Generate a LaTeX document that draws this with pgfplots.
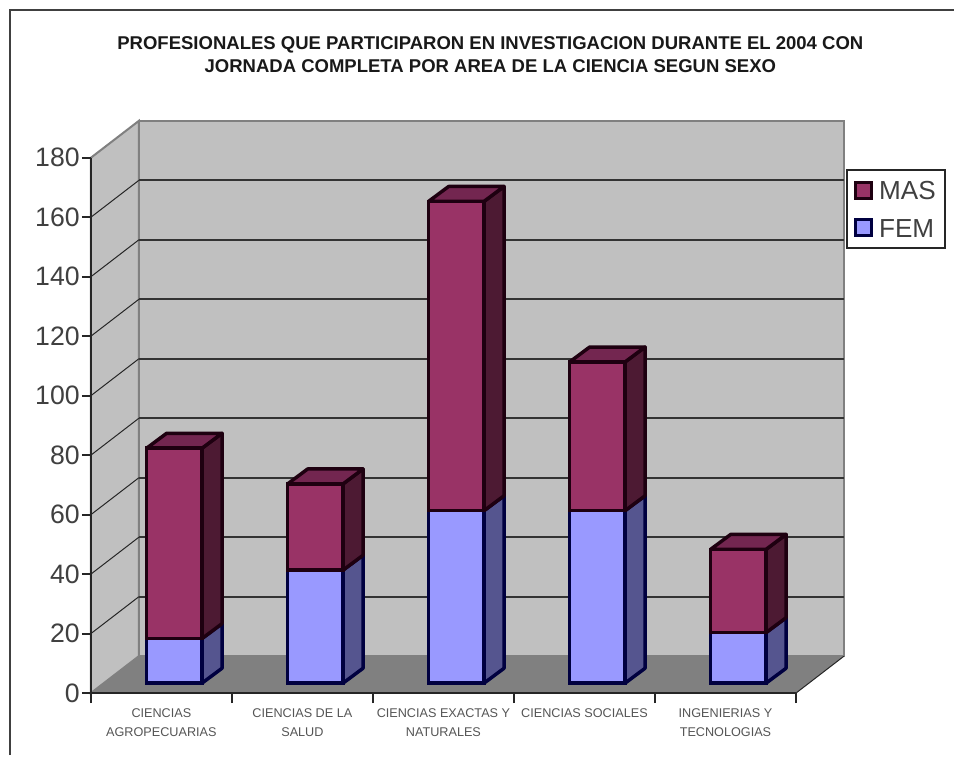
\documentclass[border=0pt]{standalone}
\usepackage{pgfplots}
\usepackage{pgfplotstable}
\usepackage{fontspec}
\setmainfont{Liberation Sans}
\pgfplotsset{compat=1.18}

% One drawing pixel is 0.75pt; the page is 955 x 756 of them.
\newlength{\px}\setlength{\px}{0.75pt}

\definecolor{wallgray}{HTML}{C0C0C0}
\definecolor{edgegray}{HTML}{808080}
\definecolor{floorgray}{HTML}{808080}
\definecolor{masfront}{HTML}{993366}
\definecolor{masside}{HTML}{4D1A33}
\definecolor{mastop}{HTML}{732650}
\definecolor{masline}{HTML}{1E0010}
\definecolor{femfront}{HTML}{9999FF}
\definecolor{femside}{HTML}{55558F}
\definecolor{femline}{HTML}{000040}
\definecolor{textgray}{HTML}{404040}
\definecolor{labelgray}{HTML}{555555}

% Professionals per area: women, then men on top of them.
\pgfplotstableread{
pos fem mas
0.5 15  64
1.5 38  29
2.5 58  104
3.5 58  50
4.5 17  28
}\datatable

% Depth of the chart box, in data units.
\def\boxdx{0.34}
\def\boxdy{12.4}
% Depth and half width of one bar, in data units.
\def\bardx{0.1416}
\def\bardy{5.0}
\def\barhalf{0.1965}

% Side face of one bar segment, from #2 to #3 at category position #1.
\newcommand{\sideface}[5]{%
  \pgfmathsetmacro{\xa}{#1+\barhalf}%
  \pgfmathsetmacro{\xb}{#1+\barhalf+\bardx}%
  \pgfmathsetmacro{\ya}{#2+\bardy}%
  \pgfmathsetmacro{\yb}{#3+\bardy}%
  \edef\temp{\noexpand\addplot[barshift,draw=#5,line width=2.6pt,line join=round,fill=#4]
    coordinates {(\xa,#2) (\xb,\ya) (\xb,\yb) (\xa,#3)} -- cycle;}%
  \temp
}
% Top face of the whole bar at category position #1 and height #2.
\newcommand{\topface}[4]{%
  \pgfmathsetmacro{\xa}{#1-\barhalf}%
  \pgfmathsetmacro{\xb}{#1+\barhalf}%
  \pgfmathsetmacro{\xc}{#1+\barhalf+\bardx}%
  \pgfmathsetmacro{\xd}{#1-\barhalf+\bardx}%
  \pgfmathsetmacro{\yb}{#2+\bardy}%
  \edef\temp{\noexpand\addplot[barshift,draw=#4,line width=2.6pt,line join=round,fill=#3]
    coordinates {(\xa,#2) (\xb,#2) (\xc,\yb) (\xd,\yb)} -- cycle;}%
  \temp
}

\pgfplotsset{barshift/.style={xshift=13\px,yshift=10\px}}

\begin{document}
\begin{tikzpicture}[x=1pt,y=1pt]
  % Page and outer frame, open at the right and at the foot.
  \fill[white] (0,0) rectangle (955\px,756\px);
  \draw[line width=2.5\px,black!75] (10\px,0\px) -- (10\px,746\px) -- (955\px,746\px);

  \begin{axis}[
    at={(91\px,62\px)}, anchor=south west,
    x=141.2\px, y=2.978\px,
    xmin=0, xmax=5, ymin=0, ymax=180,
    clip=false, axis on top,
    axis x line*=bottom, axis y line*=left,
    axis line style={line width=2\px,black!85,-},
    tick style={line width=2\px,black!85},
    tick align=outside,
    major tick length=9\px,
    minor tick length=10\px,
    xtick={0.5,1.5,2.5,3.5,4.5},
    major x tick style={draw=none},
    xticklabels={{CIENCIAS\\AGROPECUARIAS},{CIENCIAS DE LA\\SALUD},{CIENCIAS EXACTAS Y\\NATURALES},{CIENCIAS SOCIALES},{INGENIERIAS Y\\TECNOLOGIAS}},
    minor xtick={0,1,2,3,4,5},
    ytick={0,20,...,180},
    y tick label style={font=\fontsize{20}{20}\selectfont,text=textgray,inner sep=2\px},
    x tick label style={font=\fontsize{9.5}{14.3}\selectfont,text=labelgray,align=center,anchor=north,yshift=-2\px},
    /pgf/number format/assume math mode=true,
  ]
    % Chart box: left wall, back wall and floor.
    \addplot[draw=edgegray,line width=1.5pt,fill=wallgray] coordinates {(0,0) (\boxdx,\boxdy) (\boxdx,192.4) (0,180)} -- cycle;
    \addplot[draw=edgegray,line width=1.5pt,fill=wallgray] coordinates {(\boxdx,\boxdy) (5.34,\boxdy) (5.34,192.4) (\boxdx,192.4)} -- cycle;
    \addplot[draw=none,fill=floorgray] coordinates {(0,0) (5,0) (5.34,\boxdy) (\boxdx,\boxdy)} -- cycle;
    \addplot[black!85,line width=1\px] coordinates {(5,0) (5.34,\boxdy)};

    % Grid lines, running over the left wall and along the back wall.
    \pgfplotsinvokeforeach{20,40,...,160}{
      \pgfmathsetmacro{\ga}{#1+\boxdy}
      \edef\temp{\noexpand\addplot[black!85,line width=1\px] coordinates {(0,#1) (\boxdx,\ga)};
        \noexpand\addplot[black!80,line width=2\px] coordinates {(\boxdx,\ga) (5.34,\ga)};}
      \temp
    }

    % Side faces of the bars: each pair of segments, then the top face.
    \sideface{0.5}{0}{15}{femside}{femline}
    \sideface{0.5}{15}{79}{masside}{masline}
    \topface{0.5}{79}{mastop}{masline}
    \sideface{1.5}{0}{38}{femside}{femline}
    \sideface{1.5}{38}{67}{masside}{masline}
    \topface{1.5}{67}{mastop}{masline}
    \sideface{2.5}{0}{58}{femside}{femline}
    \sideface{2.5}{58}{162}{masside}{masline}
    \topface{2.5}{162}{mastop}{masline}
    \sideface{3.5}{0}{58}{femside}{femline}
    \sideface{3.5}{58}{108}{masside}{masline}
    \topface{3.5}{108}{mastop}{masline}
    \sideface{4.5}{0}{17}{femside}{femline}
    \sideface{4.5}{17}{45}{masside}{masline}
    \topface{4.5}{45}{mastop}{masline}

    % Front faces, stacked.
    \addplot[stack plots=y,ybar,bar width=55.5\px,bar shift=0pt,barshift,
      draw=femline,line width=2.6pt,fill=femfront] table[x=pos,y=fem] {\datatable};
    \addplot[stack plots=y,ybar,bar width=55.5\px,bar shift=0pt,barshift,
      draw=masline,line width=2.6pt,fill=masfront] table[x=pos,y=mas] {\datatable};
  \end{axis}

  % Title.
  \node[font=\bfseries\fontsize{13.9}{17.3}\selectfont,align=center,text=black!90] at (491\px,701\px)
    {PROFESIONALES QUE PARTICIPARON EN INVESTIGACION DURANTE EL 2004 CON\\JORNADA COMPLETA POR AREA DE LA CIENCIA SEGUN SEXO};

  % Legend.
  \draw[line width=2\px,black!85,fill=white] (848.5\px,508\px) rectangle (946\px,586\px);
  \draw[line width=3\px,masline,fill=masfront] (857\px,557\px) rectangle (873\px,573\px);
  \draw[line width=3\px,femline,fill=femfront] (857\px,520\px) rectangle (873\px,536\px);
  \node[anchor=west,inner sep=0pt,font=\fontsize{19.6}{19.6}\selectfont,text=textgray] at (880\px,565\px) {MAS};
  \node[anchor=west,inner sep=0pt,font=\fontsize{19.6}{19.6}\selectfont,text=textgray] at (880\px,527\px) {FEM};
\end{tikzpicture}
\end{document}
